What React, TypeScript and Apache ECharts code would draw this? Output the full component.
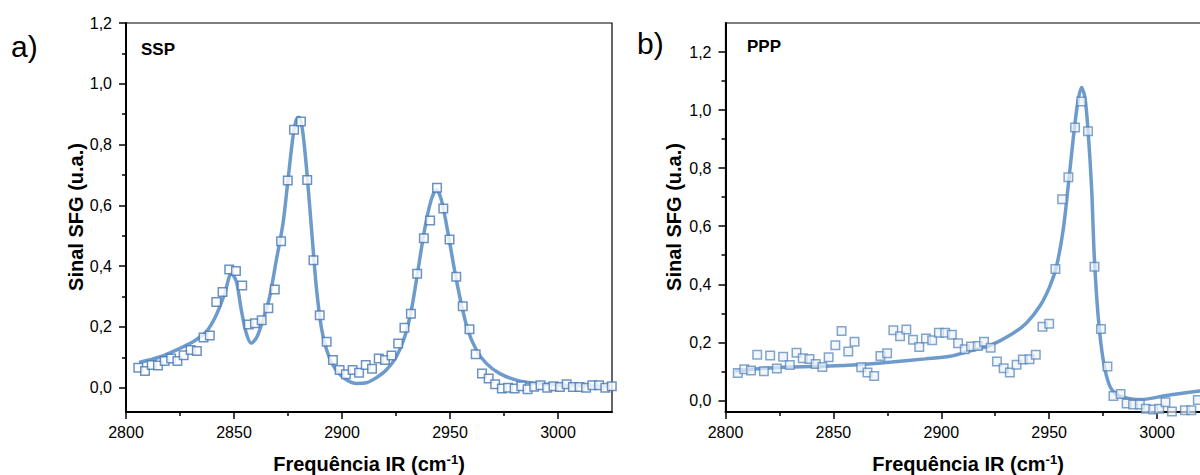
import React, { useEffect, useRef } from "react";
import * as echarts from "echarts";

// ---- SSP (panel a) measured points ----
const sspX = [
  2805.7, 2808.8, 2811.9, 2814.8, 2817.9, 2820.9, 2823.8, 2826.7, 2829.9, 2832.8,
  2835.9, 2838.8, 2841.8, 2844.7, 2847.8, 2850.9, 2853.8, 2856.8, 2859.7, 2862.8,
  2865.9, 2868.9, 2871.8, 2874.9, 2877.8, 2881.0, 2883.9, 2886.8, 2889.7, 2892.9,
  2895.8, 2898.9, 2901.8, 2904.9, 2907.9, 2911.0, 2913.9, 2917.0, 2919.9, 2922.9,
  2926.0, 2928.9, 2931.9, 2934.8, 2937.9, 2940.8, 2944.0, 2946.9, 2949.8, 2952.9,
  2955.9, 2959.0, 2961.9, 2964.8, 2967.9, 2970.9, 2974.0, 2976.9, 2979.9, 2983.0,
  2985.9, 2989.0, 2991.9, 2995.0, 2997.9, 3000.9, 3004.0, 3006.9, 3010.0, 3013.0,
  3015.9, 3019.0, 3021.9, 3024.9,
];
const sspY = [
  0.066, 0.055, 0.075, 0.073, 0.088, 0.096, 0.088, 0.107, 0.124, 0.121,
  0.165, 0.172, 0.282, 0.315, 0.389, 0.384, 0.336, 0.208, 0.212, 0.222,
  0.261, 0.323, 0.482, 0.682, 0.849, 0.876, 0.683, 0.419, 0.238, 0.151,
  0.091, 0.058, 0.044, 0.058, 0.049, 0.075, 0.062, 0.096, 0.091, 0.106,
  0.145, 0.197, 0.243, 0.375, 0.492, 0.55, 0.658, 0.59, 0.488, 0.365,
  0.268, 0.192, 0.11, 0.047, 0.03, 0.011, -0.003, 0.0, -0.003, 0.005,
  -0.005, 0.003, 0.008, 0.0, 0.005, 0.002, 0.011, 0.002, 0.002, 0.0,
  0.008, 0.008, 0.0, 0.005,
];

// ---- SSP fitted curve ----
const sspFitX = [
  2806.0, 2815.6, 2824.8, 2831.0, 2837.2, 2841.8, 2845.7, 2848.8, 2851.1, 2853.4,
  2855.7, 2858.0, 2860.6, 2863.4, 2866.5, 2869.6, 2872.7, 2875.0, 2877.3, 2878.8,
  2880.1, 2881.6, 2883.5, 2885.8, 2888.1, 2890.4, 2892.7, 2895.8, 2900.5, 2906.6,
  2911.3, 2915.9, 2920.5, 2925.1, 2929.0, 2932.1, 2935.2, 2938.2, 2941.3, 2943.7,
  2946.0, 2949.1, 2952.1, 2955.2, 2958.3, 2962.2, 2966.8, 2972.9, 2980.7, 2990.0,
  3002.3, 3023.9,
];
const sspFitY = [
  0.083, 0.101, 0.129, 0.151, 0.184, 0.239, 0.31, 0.376, 0.349, 0.255,
  0.179, 0.146, 0.167, 0.222, 0.299, 0.42, 0.541, 0.684, 0.826, 0.881,
  0.89, 0.854, 0.728, 0.53, 0.332, 0.2, 0.129, 0.074, 0.034, 0.014,
  0.016, 0.033, 0.058, 0.101, 0.167, 0.255, 0.387, 0.519, 0.618, 0.651,
  0.618, 0.508, 0.387, 0.277, 0.189, 0.124, 0.08, 0.047, 0.025, 0.014,
  0.008, 0.005,
];

// ---- PPP (panel b) measured points ----
const pppX = [
  2805.7, 2808.7, 2811.8, 2814.7, 2817.8, 2820.7, 2823.8, 2826.7, 2829.8, 2832.9,
  2835.8, 2838.9, 2841.8, 2844.9, 2847.8, 2850.9, 2853.8, 2856.9, 2859.8, 2862.9,
  2865.8, 2868.9, 2871.8, 2874.9, 2877.8, 2880.9, 2883.8, 2886.9, 2889.8, 2892.9,
  2895.8, 2898.9, 2901.8, 2904.9, 2907.8, 2910.9, 2913.8, 2916.9, 2919.8, 2922.9,
  2925.8, 2928.9, 2931.8, 2934.9, 2937.8, 2940.9, 2943.8, 2946.9, 2950.0, 2952.9,
  2956.0, 2958.9, 2962.0, 2964.9, 2968.0, 2971.0, 2974.0, 2977.0, 2979.8, 2983.1,
  2985.9, 2988.9, 2992.0, 2994.8, 2998.2, 3001.0, 3003.9, 3006.9, 3012.9, 3015.9,
  3018.9,
];
const pppY = [
  0.094, 0.107, 0.103, 0.157, 0.1, 0.155, 0.11, 0.15, 0.122, 0.164,
  0.145, 0.143, 0.125, 0.115, 0.149, 0.19, 0.239, 0.168, 0.202, 0.114,
  0.096, 0.084, 0.153, 0.162, 0.242, 0.221, 0.244, 0.209, 0.184, 0.213,
  0.207, 0.233, 0.233, 0.226, 0.197, 0.176, 0.186, 0.187, 0.202, 0.181,
  0.134, 0.111, 0.096, 0.123, 0.141, 0.142, 0.157, 0.254, 0.264, 0.453,
  0.693, 0.769, 0.94, 1.03, 0.927, 0.46, 0.246, 0.117, 0.015, 0.022,
  -0.011, -0.014, -0.014, -0.029, -0.031, -0.029, -0.006, -0.038, -0.034, -0.034,
  0.001,
];

// ---- PPP fitted curve ----
const pppFitX = [
  2804.4, 2815.2, 2830.7, 2846.1, 2861.6, 2877.0, 2892.5, 2904.0, 2913.3, 2922.5,
  2931.8, 2939.5, 2945.7, 2950.3, 2953.4, 2956.5, 2958.8, 2961.1, 2963.2, 2965.0,
  2966.6, 2968.1, 2969.7, 2970.9, 2972.7, 2975.0, 2978.1, 2982.0, 2987.4, 2992.8,
  3004.4, 3019.8, 3025.0,
];
const pppFitY = [
  0.101, 0.109, 0.115, 0.118, 0.123, 0.132, 0.143, 0.152, 0.17, 0.189,
  0.224, 0.267, 0.325, 0.393, 0.462, 0.588, 0.737, 0.898, 1.024, 1.078,
  1.042, 0.921, 0.726, 0.497, 0.29, 0.141, 0.049, 0.017, 0.006, 0.003,
  0.017, 0.032, 0.036,
];

// ---- ticks ----
const xTicks = [2800, 2850, 2900, 2950, 3000];
const xMinorTicks = [2825, 2875, 2925, 2975];
const yTicks = [0, 0.2, 0.4, 0.6, 0.8, 1.0, 1.2];
const yMinorTicks = [0.1, 0.3, 0.5, 0.7, 0.9, 1.1];

const FONT = "'Liberation Sans', Arial, sans-serif";
const LINE_COLOR = "#6d9bcb";
const MARK_BORDER = "#4677b4";

const zip = (xs: number[], ys: number[]) => xs.map((x, i) => [x, ys[i]]);
const fmt = (v: number) => v.toFixed(1).replace(".", ",");

function xAxesFor(gridIndex: number) {
  return [
    {
      type: "value",
      gridIndex,
      min: 2800,
      max: 3025,
      position: "bottom",
      axisLine: { show: true, onZero: false, lineStyle: { color: "#000", width: 2 } },
      axisTick: { show: true, customValues: xTicks, length: 7, lineStyle: { color: "#000", width: 1.5 } },
      axisLabel: {
        show: true,
        customValues: xTicks,
        margin: 12,
        fontSize: 16,
        color: "#000",
        fontFamily: FONT,
        formatter: (v: number) => String(Math.round(v)),
      },
      splitLine: { show: false },
    },
    {
      type: "value",
      gridIndex,
      min: 2800,
      max: 3025,
      position: "bottom",
      axisLine: { show: false, onZero: false },
      axisTick: { show: true, customValues: xMinorTicks, length: 4, lineStyle: { color: "#000", width: 1.5 } },
      axisLabel: { show: false },
      splitLine: { show: false },
    },
  ];
}

function yAxesFor(gridIndex: number, min: number, max: number) {
  return [
    {
      type: "value",
      gridIndex,
      min,
      max,
      position: "left",
      axisLine: { show: true, onZero: false, lineStyle: { color: "#000", width: 2 } },
      axisTick: { show: true, customValues: yTicks, length: 7, lineStyle: { color: "#000", width: 1.5 } },
      axisLabel: {
        show: true,
        customValues: yTicks,
        margin: 14,
        fontSize: 16,
        color: "#000",
        fontFamily: FONT,
        formatter: (v: number) => fmt(v),
      },
      splitLine: { show: false },
    },
    {
      type: "value",
      gridIndex,
      min,
      max,
      position: "left",
      axisLine: { show: false, onZero: false },
      axisTick: { show: true, customValues: yMinorTicks, length: 4, lineStyle: { color: "#000", width: 1.5 } },
      axisLabel: { show: false },
      splitLine: { show: false },
    },
  ];
}

function xName(cx: number) {
  return {
    type: "text",
    x: cx,
    y: 464,
    style: {
      text: "{t|Frequência IR (cm}{s|-1}{t|)}",
      align: "center",
      verticalAlign: "middle",
      rich: {
        t: { fontSize: 20, fontWeight: "bold", fontFamily: FONT, fill: "#000", lineHeight: 22, verticalAlign: "middle" },
        s: { fontSize: 13, fontWeight: "bold", fontFamily: FONT, fill: "#000", lineHeight: 13, verticalAlign: "top" },
      },
    },
  };
}

function yName(cx: number) {
  return {
    type: "text",
    x: cx,
    y: 217,
    rotation: Math.PI / 2,
    style: {
      text: "Sinal SFG (u.a.)",
      align: "center",
      verticalAlign: "middle",
      fontSize: 20,
      fontWeight: "bold",
      fontFamily: FONT,
      fill: "#000",
    },
  };
}

function label(text: string, x: number, y: number, size: number, weight: string) {
  return {
    type: "text",
    x,
    y,
    style: { text, align: "left", verticalAlign: "middle", fontSize: size, fontWeight: weight, fontFamily: FONT, fill: "#000" },
  };
}

export default function App() {
  const ref = useRef<HTMLDivElement>(null);

  useEffect(() => {
    if (!ref.current) return;
    const chart = echarts.init(ref.current, undefined, { renderer: "svg" });
    const xa = [...xAxesFor(0), ...xAxesFor(1)];
    const ya = [...yAxesFor(0, -0.08, 1.2), ...yAxesFor(1, -0.04, 1.3)];
    chart.setOption({
      animation: false,
      backgroundColor: "#fff",
      grid: [
        { left: 126, top: 23, width: 486, height: 389, show: true, borderColor: "#000", borderWidth: 1.2 },
        { left: 725.5, top: 23, width: 485.5, height: 389, show: true, borderColor: "#000", borderWidth: 1.2 },
      ],
      xAxis: xa,
      yAxis: ya,
      series: [
        {
          type: "line",
          xAxisIndex: 0,
          yAxisIndex: 0,
          data: zip(sspFitX, sspFitY),
          showSymbol: false,
          smooth: 0.3,
          lineStyle: { color: LINE_COLOR, width: 3.5 },
          z: 2,
        },
        {
          type: "scatter",
          xAxisIndex: 0,
          yAxisIndex: 0,
          data: zip(sspX, sspY),
          symbol: "rect",
          symbolSize: 8.5,
          itemStyle: { color: "#fff", borderColor: MARK_BORDER, borderWidth: 1.5 },
          z: 3,
        },
        {
          type: "line",
          xAxisIndex: 2,
          yAxisIndex: 2,
          data: zip(pppFitX, pppFitY),
          showSymbol: false,
          smooth: 0.3,
          lineStyle: { color: LINE_COLOR, width: 3.5 },
          z: 2,
        },
        {
          type: "scatter",
          xAxisIndex: 2,
          yAxisIndex: 2,
          data: zip(pppX, pppY),
          symbol: "rect",
          symbolSize: 8.5,
          itemStyle: { color: "#eef3fa", borderColor: "#4f7fb8", borderWidth: 1.5, opacity: 0.7 },
          z: 3,
        },
      ],
      graphic: [
        label("a)", 11, 46, 30, "normal"),
        label("b)", 637, 43, 30, "normal"),
        label("SSP", 141, 49, 17, "bold"),
        label("PPP", 747, 46, 17, "bold"),
        yName(76),
        yName(674),
        xName(369),
        xName(968),
      ],
    });
    return () => chart.dispose();
  }, []);

  return (
    <div style={{ position: "fixed", left: 0, top: 0, width: 1200, height: 475, overflow: "hidden", background: "#fff" }}>
      <div ref={ref} style={{ width: 1220, height: 475 }} />
    </div>
  );
}
